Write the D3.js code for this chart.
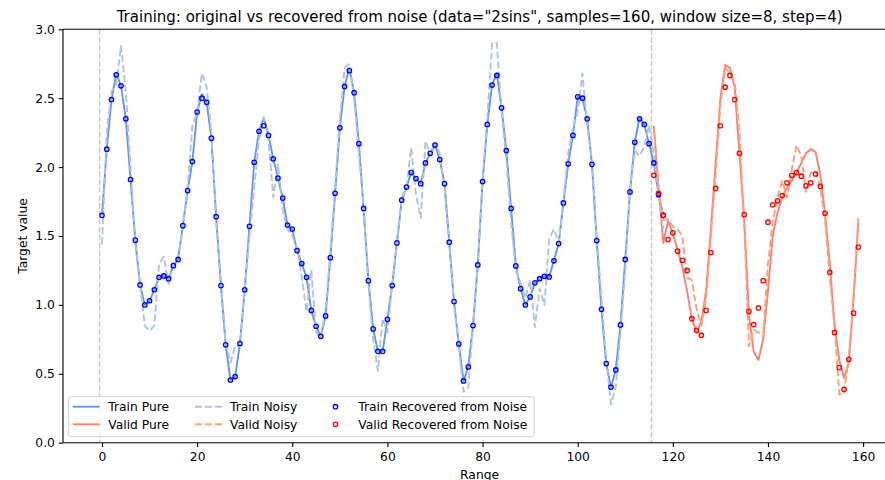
<!DOCTYPE html>
<html>
<head>
<meta charset="utf-8">
<script src="https://cdn.jsdelivr.net/npm/d3@7"></script>
<style>
  html, body { margin: 0; padding: 0; background: #fff; }
  svg { display: block; font-family: "DejaVu Sans", sans-serif; }
</style>
</head>
<body>
<svg id="chart" width="885" height="480"></svg>
<script>
// ---------------- data ----------------
const titleText = 'Training: original vs recovered from noise (data="2sins", samples=160, window size=8, step=4)';
const xTicks = [0, 20, 40, 60, 80, 100, 120, 140, 160];
const yTicks = [0.0, 0.5, 1.0, 1.5, 2.0, 2.5, 3.0];
const splitLines = [-0.5, 115.5];

const trainStart = 0;
const trainPure = [1.65,2.13,2.49,2.68,2.59,2.35,1.91,1.47,1.145,1.00,1.03,1.11,1.20,1.21,1.19,1.285,1.33,1.575,1.83,2.04,
  2.40,2.53,2.47,2.21,1.64,1.14,0.71,0.455,0.48,0.72,1.11,1.57,2.035,2.26,2.36,2.23,2.06,1.92,1.775,1.58,
  1.55,1.394,1.30,1.20,0.96,0.845,0.772,0.92,1.343,1.81,2.285,2.585,2.72,2.54,2.17,1.70,1.176,0.826,0.663,0.663,
  0.895,1.14,1.45,1.76,1.855,1.96,1.917,1.88,2.03,2.10,2.16,2.055,1.88,1.455,1.024,0.717,0.448,0.55,0.85,1.29,
  1.895,2.31,2.595,2.68,2.43,2.12,1.70,1.283,1.118,1.00,1.058,1.16,1.19,1.208,1.203,1.32,1.445,1.74,2.024,2.23,
  2.51,2.50,2.35,2.02,1.467,0.968,0.574,0.404,0.528,0.855,1.33,1.82,2.18,2.36,2.31,2.17,2.03,1.80,1.65];
const trainNoisy = [1.44,2.25,2.55,2.60,2.88,2.55,2.00,1.45,1.15,0.85,0.81,0.85,1.30,1.35,1.15,1.30,1.35,1.55,1.85,2.30,
  2.40,2.68,2.58,2.25,1.60,1.15,0.72,0.58,0.70,0.70,1.10,1.50,1.85,2.20,2.36,2.20,1.78,2.02,1.68,1.55,
  1.50,1.42,1.20,0.95,1.25,0.80,0.76,0.97,1.38,1.85,2.35,2.72,2.75,2.50,2.10,1.70,1.15,0.75,0.52,0.90,
  0.80,1.15,1.45,1.78,1.85,2.14,1.80,1.63,2.19,2.10,2.18,2.10,1.85,1.45,1.00,0.70,0.37,0.40,0.85,1.30,
  1.90,2.35,2.90,2.90,2.40,2.05,1.60,1.25,1.15,1.05,1.18,0.84,1.12,1.00,1.48,1.55,1.45,1.75,2.10,2.28,
  2.40,2.68,2.30,2.05,1.50,1.05,0.60,0.28,0.40,0.80,1.25,1.85,2.12,2.08,2.15,2.30,2.10,1.80,1.55];
const trainRecovered = [1.65,2.13,2.49,2.67,2.59,2.35,1.91,1.47,1.145,1.00,1.03,1.11,1.20,1.21,1.19,1.285,1.33,1.575,1.83,2.04,
  2.40,2.50,2.47,2.21,1.64,1.14,0.71,0.455,0.48,0.72,1.11,1.57,2.035,2.26,2.30,2.23,2.06,1.92,1.775,1.58,
  1.55,1.394,1.30,1.20,0.96,0.845,0.772,0.92,1.343,1.81,2.285,2.585,2.70,2.54,2.17,1.70,1.176,0.826,0.663,0.663,
  0.895,1.14,1.45,1.76,1.855,1.96,1.917,1.88,2.03,2.10,2.16,2.055,1.88,1.455,1.024,0.717,0.448,0.55,0.85,1.29,
  1.895,2.31,2.595,2.665,2.43,2.12,1.70,1.283,1.118,1.00,1.058,1.16,1.19,1.208,1.203,1.32,1.445,1.74,2.024,2.23,
  2.51,2.50,2.35,2.02,1.467,0.968,0.574,0.404,0.528,0.855,1.33,1.82,2.18,2.35,2.31,2.17,2.03,1.80,1.65];

const validStart = 116;
const validPure = [2.30,1.85,1.45,1.61,1.52,1.40,1.28,1.10,0.90,0.80,0.88,1.10,1.55,2.03,2.50,2.74,2.72,2.58,2.10,1.62,
  0.93,0.66,0.60,0.75,1.10,1.50,1.67,1.78,1.85,1.90,1.96,2.03,2.10,2.13,2.11,1.95,1.66,1.30,0.85,0.60,
  0.47,0.58,1.05,1.60];
const validNoisy = [2.28,1.85,1.62,1.62,1.57,1.55,1.50,1.20,1.18,0.97,0.85,1.05,1.50,1.95,2.45,2.72,2.68,2.62,2.25,1.60,
  0.70,0.82,0.80,0.78,1.30,1.60,1.78,1.90,1.78,1.98,2.16,2.08,1.82,1.96,1.97,1.85,1.62,1.20,0.85,0.35,
  0.36,0.62,1.05,1.63];
const validRecovered = [1.94,1.81,1.65,1.474,1.523,1.39,1.324,1.25,0.90,0.815,0.78,0.96,1.38,1.845,2.30,2.58,2.665,2.49,2.10,1.655,
  0.953,0.857,0.978,1.176,1.60,1.726,1.755,1.794,1.886,1.94,1.96,1.934,1.864,1.886,1.95,1.86,1.665,1.237,0.80,0.545,
  0.387,0.605,0.94,1.42];

const legendLabels = ["Train Pure","Valid Pure","Train Noisy","Valid Noisy","Train Recovered from Noise","Valid Recovered from Noise"];

// ---------------- layout ----------------
const svg = d3.select("#chart");
const plot = { left: 63, right: 896.2, top: 29.3, bottom: 442.7 };
const x = d3.scaleLinear().domain([0, 160]).range([102.0, 863.1]);
const y = d3.scaleLinear().domain([0, 3]).range([plot.bottom, plot.top]);
const FS = 12.3, FS_TITLE = 15.0;

const toPts = (arr, start) => arr.map((v, i) => [start + i, v]);
const line = d3.line().x(d => x(d[0])).y(d => y(d[1]));

const colors = {
  trainPure: "#6495ED", trainNoisy: "#B0C4DE", trainRec: "#0000FF",
  validPure: "#FA8072", validNoisy: "#FFA07A", validRec: "#FF0000", vline: "#c8c8c8"
};

svg.append("defs").append("clipPath").attr("id", "clip")
  .append("rect").attr("x", plot.left).attr("y", plot.top)
  .attr("width", plot.right - plot.left).attr("height", plot.bottom - plot.top);

const g = svg.append("g").attr("clip-path", "url(#clip)");

// vertical split lines
g.selectAll("line.vl").data(splitLines).enter().append("line")
  .attr("x1", d => x(d)).attr("x2", d => x(d))
  .attr("y1", plot.top).attr("y2", plot.bottom)
  .attr("stroke", colors.vline).attr("stroke-width", 1.5).attr("stroke-dasharray", "5.5,2.4");

const series = [
  { pts: toPts(trainPure, trainStart), color: colors.trainPure, dash: null, w: 1.9 },
  { pts: toPts(validPure, validStart), color: colors.validPure, dash: null, w: 1.9 },
  { pts: toPts(trainNoisy, trainStart), color: colors.trainNoisy, dash: "7,3", w: 1.9 },
  { pts: toPts(validNoisy, validStart), color: colors.validNoisy, dash: "7,3", w: 1.9 }
];
series.forEach(s => {
  g.append("path").attr("d", line(s.pts)).attr("fill", "none")
    .attr("stroke", s.color).attr("stroke-width", s.w)
    .attr("stroke-linejoin", "round")
    .attr("stroke-dasharray", s.dash);
});

function markers(pts, color) {
  g.append("g").selectAll("circle").data(pts).enter().append("circle")
    .attr("cx", d => x(d[0])).attr("cy", d => y(d[1])).attr("r", 2.2)
    .attr("fill", "none").attr("stroke", color).attr("stroke-width", 1.3);
}
markers(toPts(trainRecovered, trainStart), colors.trainRec);
markers(toPts(validRecovered, validStart), colors.validRec);

// ---------------- axes ----------------
const xAxis = d3.axisBottom(x).tickValues(xTicks).tickSize(4.3).tickPadding(5.6).tickFormat(d3.format("d"));
const yAxis = d3.axisLeft(y).tickValues(yTicks).tickSize(4.3).tickPadding(3.8).tickFormat(d3.format(".1f"));

const gx = svg.append("g").attr("transform", `translate(0,${plot.bottom})`).call(xAxis);
const gy = svg.append("g").attr("transform", `translate(${plot.left},0)`).call(yAxis);
[gx, gy].forEach(a => {
  a.select(".domain").remove();
  a.selectAll("line").attr("stroke", "#000").attr("stroke-width", 1.1);
  a.selectAll("text").attr("font-size", FS).attr("fill", "#000").attr("font-family", "DejaVu Sans");
});

// spines
const spine = svg.append("g").attr("stroke", "#000").attr("stroke-width", 1.1).attr("fill", "none");
spine.append("line").attr("x1", plot.left).attr("x2", plot.left).attr("y1", plot.top).attr("y2", plot.bottom);
spine.append("line").attr("x1", plot.left).attr("x2", plot.right).attr("y1", plot.bottom).attr("y2", plot.bottom);
spine.append("line").attr("x1", plot.left).attr("x2", plot.right).attr("y1", plot.top).attr("y2", plot.top);
spine.append("line").attr("x1", plot.right).attr("x2", plot.right).attr("y1", plot.top).attr("y2", plot.bottom);

// titles
svg.append("text").attr("x", (plot.left + plot.right) / 2).attr("y", 21.5)
  .attr("text-anchor", "middle").attr("font-size", FS_TITLE).text(titleText);
svg.append("text").attr("x", (plot.left + plot.right) / 2).attr("y", 478.5)
  .attr("text-anchor", "middle").attr("font-size", FS).text("Range");
svg.append("text").attr("transform", `translate(26.5,${(plot.top + plot.bottom) / 2}) rotate(-90)`)
  .attr("text-anchor", "middle").attr("font-size", FS).text("Target value");

// ---------------- legend ----------------
const lg = svg.append("g");
lg.append("rect").attr("x", 68.3).attr("y", 396.7).attr("width", 466).attr("height", 40)
  .attr("rx", 3).attr("fill", "#fff").attr("fill-opacity", 0.8)
  .attr("stroke", "#d0d0d0").attr("stroke-width", 1);
const rowsY = [406.7, 424.3];
const cols = [
  { hx: 72.7, tx: 108.3 }, { hx: 195, tx: 230 }, { hx: 322, tx: 358.3 }
];
const legendStyles = [
  { type: "line", color: colors.trainPure, dash: null },
  { type: "line", color: colors.validPure, dash: null },
  { type: "line", color: colors.trainNoisy, dash: "7,3" },
  { type: "line", color: colors.validNoisy, dash: "7,3" },
  { type: "marker", color: colors.trainRec },
  { type: "marker", color: colors.validRec }
];
legendLabels.forEach((lab, i) => {
  const c = cols[Math.floor(i / 2)], ry = rowsY[i % 2], st = legendStyles[i];
  if (st.type === "line") {
    lg.append("line").attr("x1", c.hx).attr("x2", c.hx + 27).attr("y1", ry).attr("y2", ry)
      .attr("stroke", st.color).attr("stroke-width", 1.9).attr("stroke-dasharray", st.dash);
  } else {
    lg.append("circle").attr("cx", c.hx + 13.5).attr("cy", ry).attr("r", 2.2)
      .attr("fill", "none").attr("stroke", st.color).attr("stroke-width", 1.3);
  }
  lg.append("text").attr("x", c.tx).attr("y", ry + 4.4).attr("font-size", FS).text(lab);
});
</script>
</body>
</html>
